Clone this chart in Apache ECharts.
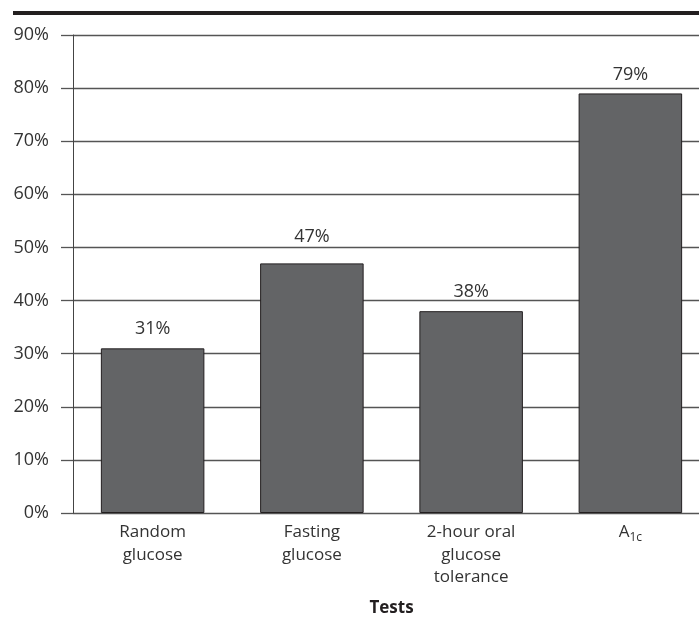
<!DOCTYPE html>
<html>
<head>
<meta charset="utf-8">
<style>html,body{margin:0;padding:0;background:#fff;overflow:hidden}#c{width:710px;height:618px}</style>
<script src="https://cdn.jsdelivr.net/npm/echarts@6/dist/echarts.min.js"></script>
</head>
<body>
<div id="c"></div>
<script>
const categories = ['Random\nglucose', 'Fasting\nglucose', '2-hour oral\nglucose\ntolerance', 'A{sub|1c}'];
const values = [31, 47, 38, 79];
const axisName = 'Tests';
const yMin = 0, yMax = 90, yStep = 10;

const chart = echarts.init(document.getElementById('c'), null, {renderer: 'canvas'});
const font = 'Open Sans';
// the reference lifts the "47%" label a little higher than the others
const labelDistance = (i) => (i === 1 ? 18 : 10);
chart.setOption({
  animation: false,
  graphic: [{
    type: 'rect', shape: {x: 13, y: 11, width: 697, height: 4},
    style: {fill: '#231f20'}, z: 10
  }],
  grid: {left: 73, right: 0, top: 35, bottom: 105, containLabel: false, outerBoundsMode: 'none'},
  xAxis: {
    type: 'category',
    data: categories,
    name: axisName,
    nameLocation: 'middle',
    nameGap: 87,
    nameTextStyle: {fontFamily: font, fontSize: 17, fontWeight: 'bold', color: '#231f20'},
    axisLine: {show: false},
    axisTick: {show: false},
    axisLabel: {
      interval: 0, margin: 8, fontFamily: font, fontSize: 17, color: '#333', lineHeight: 22.5,
      rich: {sub: {fontFamily: font, fontSize: 12, color: '#333', lineHeight: 22.5, padding: [10, 0, 0, 0]}}
    }
  },
  yAxis: {
    type: 'value', min: yMin, max: yMax, interval: yStep,
    axisLine: {show: true, lineStyle: {color: '#444', width: 1}},
    axisTick: {show: true, length: 12, lineStyle: {color: '#555', width: 1.3}},
    axisLabel: {formatter: '{value}%', fontFamily: font, fontSize: 18, color: '#333', margin: 24},
    splitLine: {show: true, lineStyle: {color: '#555', width: 1.3}}
  },
  series: [{
    type: 'bar',
    data: values.map((v, i) => ({value: v, label: {distance: labelDistance(i)}})),
    barWidth: '65%',
    itemStyle: {color: '#636466', borderColor: '#231f20', borderWidth: 1},
    label: {show: true, position: 'top', formatter: '{c}%', fontFamily: font, fontSize: 18, color: '#333'}
  }]
});
</script>
</body>
</html>
